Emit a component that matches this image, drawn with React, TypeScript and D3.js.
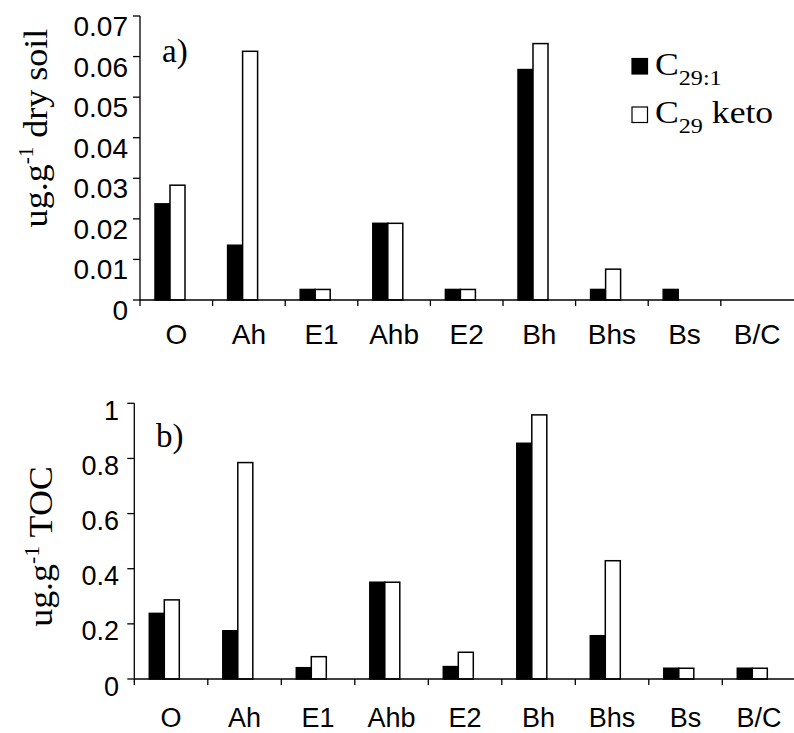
import React from "react";
import * as d3 from "d3";

// Soil horizons along the profile
const categories = ["O", "Ah", "E1", "Ahb", "E2", "Bh", "Bhs", "Bs", "B/C"];

// a) concentrations per gram of dry soil
const dryC291 = [0.0237, 0.0135, 0.0026, 0.0189, 0.0026, 0.0568, 0.0026, 0.0026, 0];
const dryKeto = [0.0283, 0.0613, 0.0026, 0.0189, 0.0026, 0.0632, 0.0076, 0, 0];
const dryTicks = [0, 0.01, 0.02, 0.03, 0.04, 0.05, 0.06, 0.07];
const dryTickLabels = ["0", "0.01", "0.02", "0.03", "0.04", "0.05", "0.06", "0.07"];

// b) concentrations per gram of total organic carbon
const tocC291 = [0.238, 0.175, 0.041, 0.351, 0.045, 0.855, 0.157, 0.039, 0.039];
const tocKeto = [0.287, 0.785, 0.081, 0.351, 0.097, 0.958, 0.429, 0.039, 0.039];
const tocTicks = [0, 0.2, 0.4, 0.6, 0.8, 1];
const tocTickLabels = ["0", "0.2", "0.4", "0.6", "0.8", "1"];

const SANS = "'Liberation Sans', Arial, sans-serif";
const SERIF = "'Liberation Serif', 'Times New Roman', serif";

type PanelProps = {
  x0: number;
  bandW: number;
  yTop: number;
  yBottom: number;
  yMax: number;
  ticks: number[];
  tickLabels: string[];
  filled: number[];
  hollow: number[];
  tickFont: number;
  tickLabelRight: number;
  tickLabelDy: number;
  catFont: number;
  catBaseline: number;
  tag: string;
  tagX: number;
  tagY: number;
  titleRest: string;
  titleX: number;
  titleY: number;
  titleFont: number;
  titleStretch: number;
  supDy: number;
};

function Panel(p: PanelProps) {
  const x = d3
    .scaleBand<string>()
    .domain(categories)
    .range([p.x0, p.x0 + p.bandW * categories.length])
    .padding(0);
  const y = d3.scaleLinear().domain([0, p.yMax]).range([p.yBottom, p.yTop]);
  const barW = 15;
  const groupOffset = 15;
  const bw = x.bandwidth();

  return (
    <g>
      {/* bars */}
      {categories.map((c, i) => {
        const bx = (x(c) ?? 0) + groupOffset;
        const hf = p.filled[i];
        const hh = p.hollow[i];
        return (
          <g key={c}>
            {hf > 0 && (
              <rect
                x={bx}
                y={y(hf)}
                width={barW}
                height={y(0) - y(hf)}
                fill="#000"
                stroke="#000"
                strokeWidth={1.5}
              />
            )}
            {hh > 0 && (
              <rect
                x={bx + barW}
                y={y(hh)}
                width={barW}
                height={y(0) - y(hh)}
                fill="#fff"
                stroke="#000"
                strokeWidth={1.5}
              />
            )}
          </g>
        );
      })}
      {/* y axis */}
      <line x1={p.x0} x2={p.x0} y1={y(p.yMax)} y2={y(0)} stroke="#000" strokeWidth={1.3} />
      {p.ticks.map((t, i) => (
        <g key={"yt" + i}>
          <line x1={p.x0 - 7} x2={p.x0} y1={y(t)} y2={y(t)} stroke="#000" strokeWidth={1.3} />
          <text
            x={p.tickLabelRight}
            y={y(t) + p.tickLabelDy}
            textAnchor="end"
            fontFamily={SANS}
            fontSize={p.tickFont}
            fill="#000"
          >
            {p.tickLabels[i]}
          </text>
        </g>
      ))}
      {/* x axis */}
      <line x1={p.x0} x2={794} y1={y(0)} y2={y(0)} stroke="#000" strokeWidth={1.3} />
      {categories.map((c) => (
        <line
          key={"xt" + c}
          x1={x(c) ?? 0}
          x2={x(c) ?? 0}
          y1={y(0)}
          y2={y(0) + 6}
          stroke="#000"
          strokeWidth={1.3}
        />
      ))}
      {categories.map((c) => (
        <text
          key={"xl" + c}
          x={(x(c) ?? 0) + bw / 2}
          y={p.catBaseline}
          textAnchor="middle"
          fontFamily={SANS}
          fontSize={p.catFont}
          fill="#000"
        >
          {c}
        </text>
      ))}
      {/* panel tag */}
      <text x={p.tagX} y={p.tagY} fontFamily={SERIF} fontSize={33} fill="#000">
        {p.tag}
      </text>
      {/* y axis title */}
      <text
        transform={`translate(${p.titleX},${p.titleY}) rotate(-90) scale(${p.titleStretch},1)`}
        textAnchor="middle"
        fontFamily={SERIF}
        fontSize={p.titleFont}
        fill="#000"
      >
        <tspan>ug.g</tspan>
        <tspan fontSize={20} dy={p.supDy}>-1</tspan>
        <tspan dy={-p.supDy}>{" " + p.titleRest}</tspan>
      </text>
    </g>
  );
}

function Legend() {
  const sx = 632;
  const stretch = 1.15;
  return (
    <g>
      <rect x={sx} y={58.5} width={15.5} height={15.5} fill="#000" stroke="#000" strokeWidth={1.2} />
      <rect x={sx} y={107} width={15.5} height={15.5} fill="#fff" stroke="#000" strokeWidth={1.2} />
      <g transform={`translate(655,0) scale(${stretch},1)`}>
        <text x={0} y={75} fontFamily={SERIF} fontSize={31} fill="#000">
          <tspan>C</tspan>
          <tspan fontSize={21} dy={10}>29:1</tspan>
        </text>
        <text x={0} y={123.3} fontFamily={SERIF} fontSize={31} fill="#000">
          <tspan>C</tspan>
          <tspan fontSize={21} dy={10}>29</tspan>
          <tspan dy={-10}> keto</tspan>
        </text>
      </g>
    </g>
  );
}

export default function App() {
  return (
    <svg
      width={794}
      height={733}
      viewBox="0 0 794 733"
      style={{ position: "absolute", left: 0, top: 0, background: "#fff" }}
    >
      <rect x={0} y={0} width={794} height={733} fill="#fff" />
      <Panel
        x0={140}
        bandW={72.6}
        yTop={16}
        yBottom={300}
        yMax={0.07}
        ticks={dryTicks}
        tickLabels={dryTickLabels}
        filled={dryC291}
        hollow={dryKeto}
        tickFont={28}
        tickLabelRight={128}
        tickLabelDy={20}
        catFont={28}
        catBaseline={343.5}
        tag="a)"
        tagX={162}
        tagY={62}
        titleRest="dry soil"
        titleX={46.5}
        titleY={128}
        titleFont={34}
        titleStretch={1.06}
        supDy={-14}
      />
      <Panel
        x0={134.3}
        bandW={73.5}
        yTop={403.3}
        yBottom={679}
        yMax={1}
        ticks={tocTicks}
        tickLabels={tocTickLabels}
        filled={tocC291}
        hollow={tocKeto}
        tickFont={27}
        tickLabelRight={119}
        tickLabelDy={16.5}
        catFont={27}
        catBaseline={727}
        tag="b)"
        tagX={156}
        tagY={447}
        titleRest="TOC"
        titleX={51.7}
        titleY={546.5}
        titleFont={33}
        titleStretch={1.09}
        supDy={-13}
      />
      <Legend />
    </svg>
  );
}
